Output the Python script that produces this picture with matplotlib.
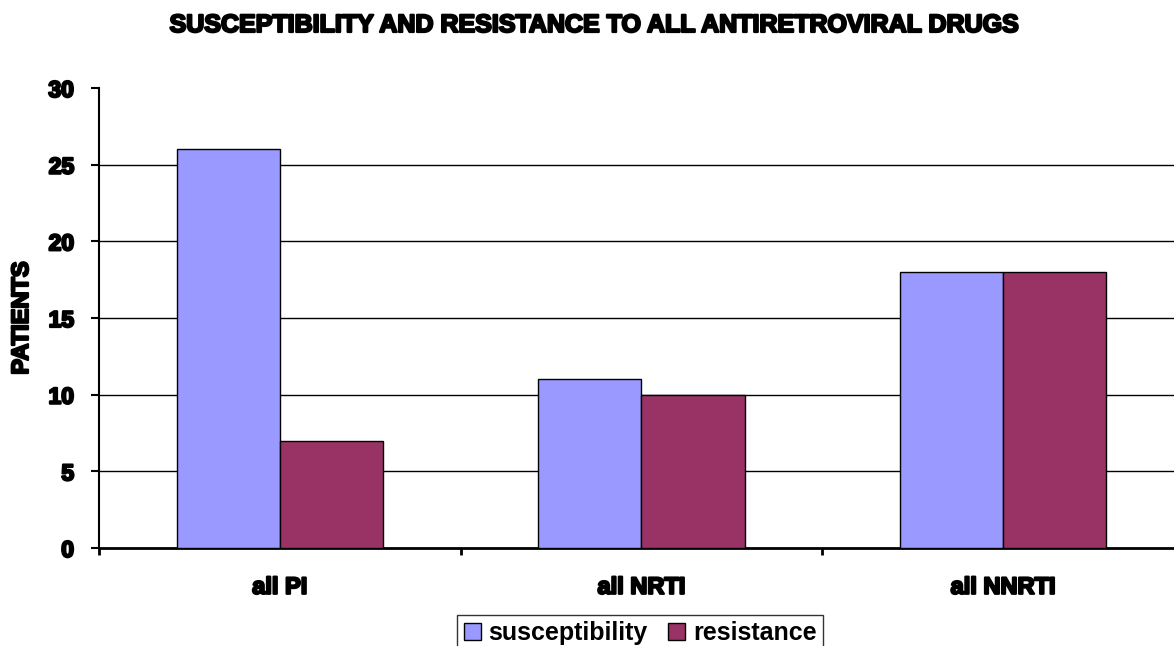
import numpy as np
import matplotlib
matplotlib.use("Agg")
import matplotlib.pyplot as plt
import matplotlib.patheffects as pe
from matplotlib.patches import Patch

# data
categories = ["all PI", "all NRTI", "all NNRTI"]
susceptibility = [26, 11, 18]
resistance = [7, 10, 18]
y_ticks = [0, 5, 10, 15, 20, 25, 30]

plt.rcParams["font.family"] = ["Liberation Sans", "DejaVu Sans"]

# the original text is rendered very heavy, fake it with a stroke
heavy = [pe.withStroke(linewidth=1.6, foreground="black")]

fig = plt.figure(figsize=(11.74, 6.46), dpi=100)
ax = fig.add_axes([99 / 1174, 98 / 646, 1085 / 1174, 460 / 646])

x = np.arange(len(categories))
w = 0.285
ax.bar(x - w / 2, susceptibility, w, color="#9999FF", edgecolor="black", linewidth=1, zorder=3)
ax.bar(x + w / 2, resistance, w, color="#993366", edgecolor="black", linewidth=1, zorder=3)

ax.set_xlim(-0.5, len(categories) - 0.5)
ax.set_ylim(0, 30)
ax.set_yticks(y_ticks)
ax.set_yticklabels([str(v) for v in y_ticks], fontsize=16.5, fontweight="bold")
for v in y_ticks[1:-1]:
    ax.axhline(v, color="black", linewidth=1, zorder=1)

# category boundaries get the tick marks, labels sit in between
ax.set_xticks(np.arange(len(categories) + 1) - 0.5)
ax.set_xticklabels([])
ax.set_xticks(x, minor=True)
ax.set_xticklabels(categories, minor=True, fontsize=17, fontweight="bold")
ax.tick_params(axis="x", which="major", direction="out", length=5, width=2)
ax.tick_params(axis="x", which="minor", length=0, pad=20)
ax.tick_params(axis="y", direction="out", length=6, width=1.5, pad=12)
for lab in ax.get_yticklabels() + ax.get_xticklabels(minor=True):
    lab.set_path_effects(heavy)

for s in ["top", "right"]:
    ax.spines[s].set_visible(False)
ax.spines["left"].set_linewidth(1.5)
ax.spines["bottom"].set_linewidth(2)

ax.set_ylabel("PATIENTS", fontsize=17, fontweight="bold", path_effects=heavy)
ax.yaxis.set_label_coords(-66 / 1085, 0.5)

fig.text(593 / 1174, 1 - 25 / 646, "SUSCEPTIBILITY AND RESISTANCE TO ALL ANTIRETROVIRAL DRUGS",
         ha="center", va="center", fontsize=18, fontweight="bold", path_effects=heavy)

handles = [Patch(facecolor="#9999FF", edgecolor="black", label="susceptibility"),
           Patch(facecolor="#993366", edgecolor="black", label="resistance")]
fig.legend(handles=handles, loc="upper center", bbox_to_anchor=(640 / 1174, 1 - 615 / 646),
           ncol=2, frameon=True, fancybox=False, edgecolor="black", borderaxespad=0,
           prop={"size": 18, "weight": "bold"}, handlelength=0.7, handleheight=0.7,
           handletextpad=0.3, columnspacing=0.8, borderpad=0.25)

fig.savefig("out.png", dpi=100)
